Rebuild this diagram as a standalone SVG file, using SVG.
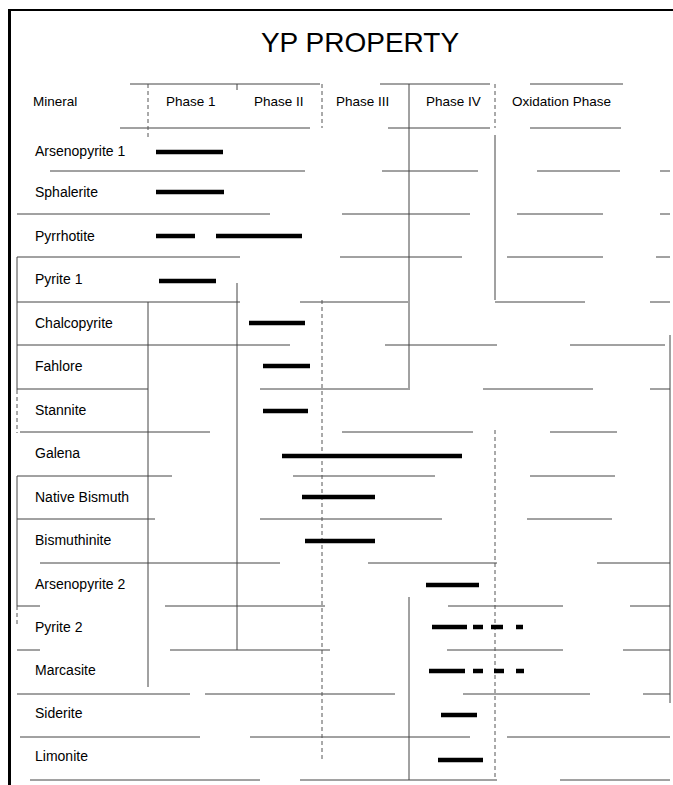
<svg xmlns="http://www.w3.org/2000/svg" width="673" height="785" viewBox="0 0 673 785">
<style>
text{font-family:"Liberation Sans",Arial,sans-serif;fill:#000}
.t{font-size:28px;text-anchor:middle}
.h{font-size:13.5px}
.r{font-size:14px}
.g{stroke:#444;stroke-width:1;fill:none}
.d{stroke:#555;stroke-width:1;fill:none;stroke-dasharray:4 3}
.bar{stroke:#000;stroke-width:4.5;fill:none}
.frame{stroke:#000;fill:none}
</style>
<rect width="673" height="785" fill="#fff"/>
<g id="frame">
<line class="frame" x1="9.5" y1="9" x2="9.5" y2="785" stroke-width="3"/>
<line class="frame" x1="8" y1="10" x2="673" y2="10" stroke-width="2"/>
</g>
<g id="title"><text class="t" x="360" y="52">YP PROPERTY</text></g>
<g id="grid">
<path class="g" d="M130 84H320M380 84H490M530 84H623M120 128H310M388 128H490M530 128H621
M50 171H305M382 171H478M537 171H620M660 171H670
M17 214H270M342 214H470M517 214H603M660 214H670
M17 257H240M340 257H462M507 257H603M656 257H670
M17 302H240M300 302H408M495 302H585M650 302H670
M17 345H290M385 345H497M570 345H665
M17 389H148M260 389H408M483 389H593M650 389H670
M20 432H210M342 432H473M550 432H617
M17 476H172M293 476H435M530 476H615
M17 519H155M260 519H442M527 519H612
M40 563H280M368 563H497M597 563H670
M17 606H40M165 606H325M448 606H563M630 606H670
M17 650H40M170 650H330M447 650H563M623 650H670
M17 694H190M205 694H395M463 694H590M643 694H670
M20 737H200M250 737H470M507 737H670
M30 780H260M300 780H497M560 780H670"/>
<path class="g" d="M148 302V687M237 84V90M237 283V650M409 84V390M409 597V780M495 135V300M17 257V390M17 476V606M670 335V703"/>
<path class="d" d="M148 84V140M322 84V128M495 84V128M322 300V760M495 430V780M17 390V433M17 606V625"/>
</g>
<g id="header">
<text class="h" x="33" y="106">Mineral</text>
<text class="h" x="166" y="106">Phase 1</text>
<text class="h" x="254" y="106">Phase II</text>
<text class="h" x="336" y="106">Phase III</text>
<text class="h" x="426" y="106">Phase IV</text>
<text class="h" x="512" y="106">Oxidation Phase</text>
</g>
<g id="arsenopyrite1"><text class="r" x="35" y="156">Arsenopyrite 1</text><path class="bar" d="M156 152H223"/></g>
<g id="sphalerite"><text class="r" x="35" y="197">Sphalerite</text><path class="bar" d="M156 192H224"/></g>
<g id="pyrrhotite"><text class="r" x="35" y="241">Pyrrhotite</text><path class="bar" d="M156 236H195M216 236H302"/></g>
<g id="pyrite1"><text class="r" x="35" y="284">Pyrite 1</text><path class="bar" d="M159 281H216"/></g>
<g id="chalcopyrite"><text class="r" x="35" y="328">Chalcopyrite</text><path class="bar" d="M249 323H305"/></g>
<g id="fahlore"><text class="r" x="35" y="371">Fahlore</text><path class="bar" d="M263 366H310"/></g>
<g id="stannite"><text class="r" x="35" y="415">Stannite</text><path class="bar" d="M263 411H308"/></g>
<g id="galena"><text class="r" x="35" y="458">Galena</text><path class="bar" d="M282 456H462"/></g>
<g id="native-bismuth"><text class="r" x="35" y="502">Native Bismuth</text><path class="bar" d="M302 497H375"/></g>
<g id="bismuthinite"><text class="r" x="35" y="545">Bismuthinite</text><path class="bar" d="M305 541H375"/></g>
<g id="arsenopyrite2"><text class="r" x="35" y="589">Arsenopyrite 2</text><path class="bar" d="M426 585H479"/></g>
<g id="pyrite2"><text class="r" x="35" y="632">Pyrite 2</text><path class="bar" d="M432 627H467M473 627H483M491 627H503M516 627H523"/></g>
<g id="marcasite"><text class="r" x="35" y="675">Marcasite</text><path class="bar" d="M429 671H465M473 671H483M494 671H504M516 671H524"/></g>
<g id="siderite"><text class="r" x="35" y="718">Siderite</text><path class="bar" d="M441 715H477"/></g>
<g id="limonite"><text class="r" x="35" y="761">Limonite</text><path class="bar" d="M438 760H483"/></g>
</svg>
